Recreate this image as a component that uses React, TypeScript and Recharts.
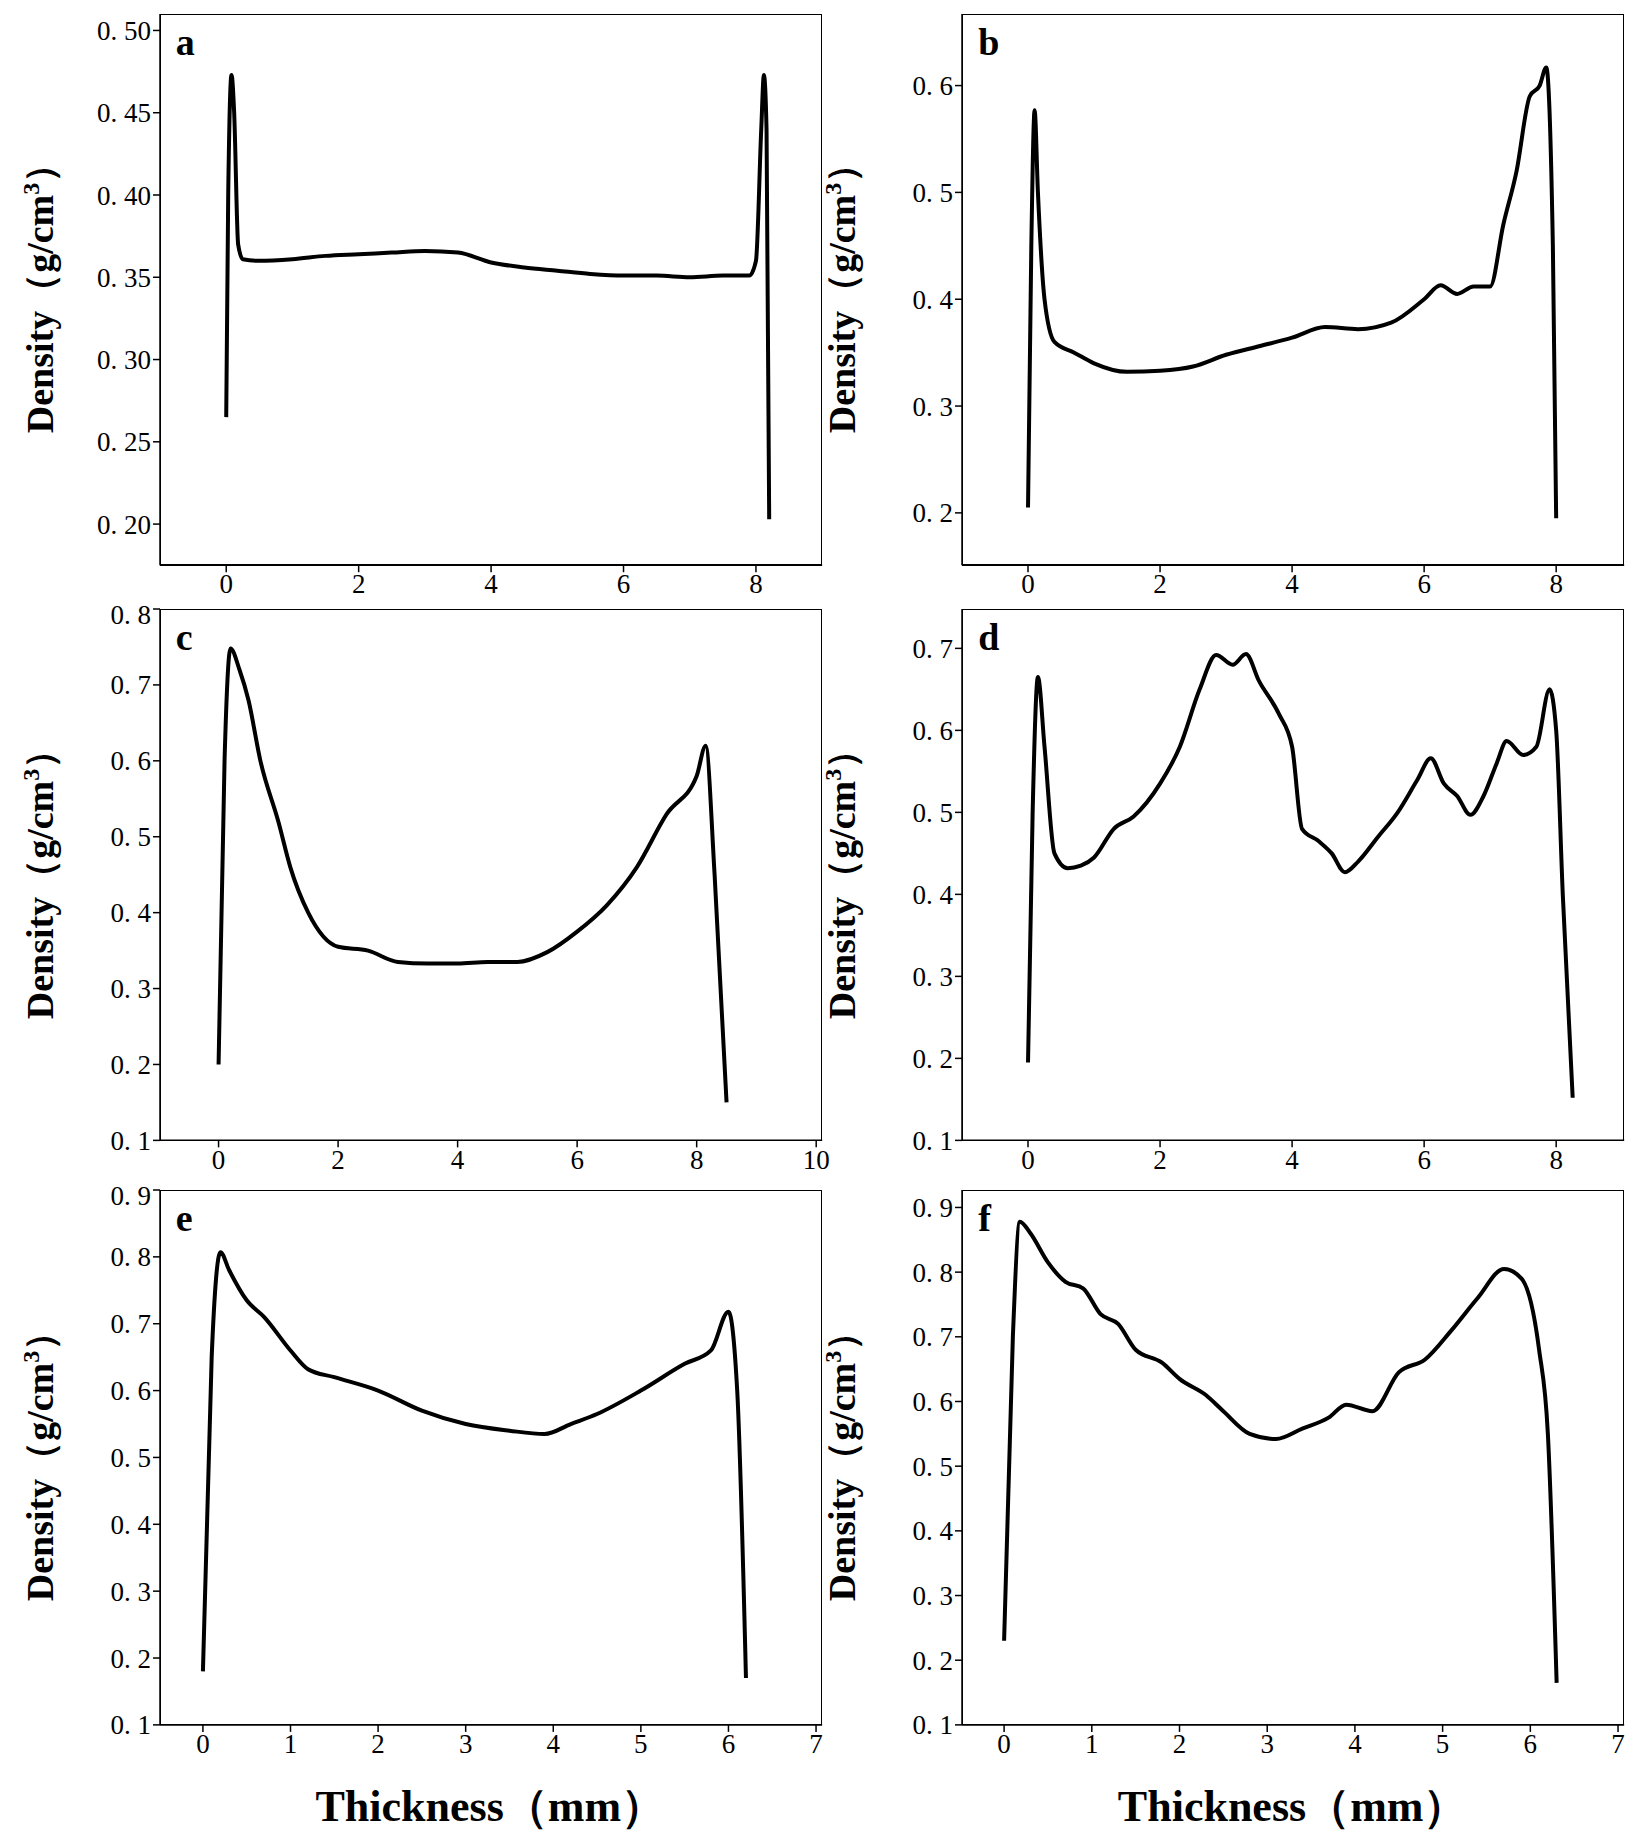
import React from "react";
import { LineChart, Line, XAxis, YAxis } from "recharts";

const S = 1635 / 1400;

const dataA = [[0,0.265],[0.03,0.40],[0.08,0.473],[0.12,0.45],[0.18,0.37],[0.25,0.361],[0.5,0.36],[1,0.361],[1.5,0.363],[2,0.364],[2.5,0.365],[3,0.366],[3.5,0.365],[4,0.359],[4.5,0.356],[5,0.354],[5.5,0.352],[6,0.351],[6.5,0.351],[7,0.350],[7.5,0.351],[7.9,0.351],[8.0,0.36],[8.08,0.44],[8.12,0.473],[8.16,0.44],[8.2,0.203]];
const dataB = [[0,0.205],[0.05,0.45],[0.1,0.577],[0.15,0.5],[0.25,0.40],[0.4,0.36],[0.7,0.35],[1,0.34],[1.5,0.332],[2,0.333],[2.5,0.337],[3,0.348],[3.5,0.356],[4,0.364],[4.5,0.374],[5,0.372],[5.5,0.378],[6,0.40],[6.25,0.413],[6.5,0.405],[6.75,0.412],[7,0.412],[7.2,0.47],[7.4,0.52],[7.6,0.59],[7.75,0.60],[7.85,0.617],[7.95,0.45],[8.0,0.195]];
const dataC = [[0,0.20],[0.1,0.6],[0.2,0.748],[0.35,0.72],[0.5,0.68],[0.7,0.60],[1,0.52],[1.2,0.46],[1.5,0.40],[2,0.355],[2.5,0.35],[3,0.335],[3.5,0.333],[4,0.333],[4.5,0.335],[5,0.335],[5.5,0.348],[6,0.375],[6.5,0.41],[7,0.46],[7.5,0.53],[8,0.58],[8.15,0.62],[8.3,0.45],[8.5,0.15]];
const dataD = [[0,0.195],[0.07,0.5],[0.15,0.665],[0.25,0.58],[0.4,0.45],[0.6,0.432],[0.8,0.435],[1,0.445],[1.3,0.48],[1.6,0.495],[2,0.535],[2.3,0.58],[2.6,0.65],[2.85,0.692],[3.1,0.68],[3.3,0.693],[3.5,0.66],[3.8,0.62],[4,0.58],[4.15,0.48],[4.4,0.465],[4.6,0.45],[4.8,0.427],[5,0.44],[5.3,0.47],[5.6,0.50],[5.9,0.54],[6.1,0.566],[6.3,0.535],[6.5,0.52],[6.7,0.497],[6.9,0.52],[7.1,0.56],[7.25,0.587],[7.5,0.57],[7.7,0.58],[7.9,0.65],[8.0,0.60],[8.1,0.4],[8.25,0.152]];
const dataE = [[0,0.18],[0.1,0.65],[0.2,0.807],[0.3,0.78],[0.5,0.735],[0.7,0.71],[1,0.66],[1.2,0.632],[1.5,0.62],[2,0.60],[2.5,0.57],[3,0.55],[3.5,0.54],[3.9,0.535],[4.2,0.55],[4.5,0.565],[5,0.60],[5.5,0.64],[5.8,0.66],[6,0.718],[6.1,0.6],[6.2,0.17]];
const dataF = [[0,0.23],[0.1,0.7],[0.18,0.878],[0.3,0.86],[0.5,0.815],[0.7,0.785],[0.9,0.775],[1.1,0.735],[1.3,0.72],[1.5,0.68],[1.8,0.66],[2,0.635],[2.3,0.61],[2.5,0.585],[2.8,0.55],[3.1,0.542],[3.4,0.558],[3.7,0.575],[3.9,0.595],[4.2,0.585],[4.5,0.645],[4.8,0.665],[5.1,0.71],[5.4,0.76],[5.7,0.805],[5.9,0.79],[6.1,0.68],[6.2,0.55],[6.3,0.165]];

const xTicksA = [0, 2, 4, 6, 8];
const xTicksC = [0, 2, 4, 6, 8, 10];
const xTicksE = [0, 1, 2, 3, 4, 5, 6, 7];
const yTicksA = [0.2, 0.25, 0.3, 0.35, 0.4, 0.45, 0.5];
const yTicksB = [0.2, 0.3, 0.4, 0.5, 0.6];
const yTicksC = [0.1, 0.2, 0.3, 0.4, 0.5, 0.6, 0.7, 0.8];
const yTicksE = [0.1, 0.2, 0.3, 0.4, 0.5, 0.6, 0.7, 0.8, 0.9];

const panels = [
  { id: "a", data: dataA, box: [130, 5, 697, 477], xd: [-1, 9], yd: [0.175, 0.51], xt: xTicksA, yt: yTicksA, dec: 2 },
  { id: "b", data: dataB, box: [817, 5, 1384, 477], xd: [-1, 9.03], yd: [0.151, 0.667], xt: xTicksA, yt: yTicksB, dec: 1 },
  { id: "c", data: dataC, box: [130, 515, 697, 970], xd: [-0.98, 10.1], yd: [0.1, 0.8], xt: xTicksC, yt: yTicksC, dec: 1 },
  { id: "d", data: dataD, box: [817, 515, 1384, 970], xd: [-1, 9.03], yd: [0.1, 0.748], xt: xTicksA, yt: yTicksC.slice(0, 7), dec: 1 },
  { id: "e", data: dataE, box: [130, 1012, 697, 1470], xd: [-0.49, 7.07], yd: [0.1, 0.9], xt: xTicksE, yt: yTicksE, dec: 1 },
  { id: "f", data: dataF, box: [817, 1012, 1384, 1470], xd: [-0.48, 7.07], yd: [0.1, 0.927], xt: xTicksE, yt: yTicksE, dec: 1 },
];

const tickStyle = { fill: "#000", fontSize: 27, fontFamily: "Liberation Serif" };

function fmt(dec: number) {
  return (v: number) => v.toFixed(dec).replace(".", ". ");
}

function Panel({ p }: { p: any }) {
  const [x0, y0, x1, y1] = p.box.map((v: number) => v * S);
  const pw = x1 - x0;
  const ph = y1 - y0;
  const YW = 130;
  const data = p.data.map((d: number[]) => ({ x: d[0], y: d[1] }));
  return (
    <div style={{ position: "absolute", left: x0 - YW, top: y0 - 10 }}>
      <LineChart width={pw + YW + 20} height={ph + 50} data={data} margin={{ top: 10, right: 20, bottom: 0, left: 0 }}>
        <XAxis dataKey="x" type="number" domain={p.xd} ticks={p.xt} allowDataOverflow height={40} tick={tickStyle} stroke="#000" strokeWidth={1.5} tickSize={7} />
        <YAxis type="number" domain={p.yd} ticks={p.yt} allowDataOverflow width={YW} tick={tickStyle} tickFormatter={fmt(p.dec)} stroke="#000" strokeWidth={1.5} tickSize={7} />
        <Line dataKey="y" type="monotone" stroke="#000" strokeWidth={4} dot={false} isAnimationActive={false} />
      </LineChart>
      <div style={{ position: "absolute", left: YW, top: 10, width: pw, height: ph, boxSizing: "border-box", border: "1.5px solid #000", pointerEvents: "none" }} />
      <div style={{ position: "absolute", left: YW + 16, top: 16, fontFamily: "Liberation Serif", fontWeight: "bold", fontSize: 38 }}>{p.id}</div>
      <div style={{ position: "absolute", left: 10, top: 10 + ph / 2, width: 0, height: 0 }}>
        <div style={{ position: "absolute", left: 0, top: 0, transform: "translate(-50%,-50%) rotate(-90deg)", whiteSpace: "nowrap", fontFamily: "Liberation Serif", fontWeight: "bold", fontSize: 38 }}>
          Density（g/cm<sup style={{ fontSize: 24 }}>3</sup>）
        </div>
      </div>
    </div>
  );
}

export default function App() {
  return (
    <div style={{ position: "relative", width: 1635, height: 1833 }}>
      {panels.map((p) => <Panel key={p.id} p={p} />)}
      <div style={{ position: "absolute", left: 413 * S - 250, top: 1515 * S, width: 500, textAlign: "center", fontFamily: "Liberation Serif", fontWeight: "bold", fontSize: 44 }}>Thickness（mm）</div>
      <div style={{ position: "absolute", left: 1100 * S - 250, top: 1515 * S, width: 500, textAlign: "center", fontFamily: "Liberation Serif", fontWeight: "bold", fontSize: 44 }}>Thickness（mm）</div>
    </div>
  );
}
